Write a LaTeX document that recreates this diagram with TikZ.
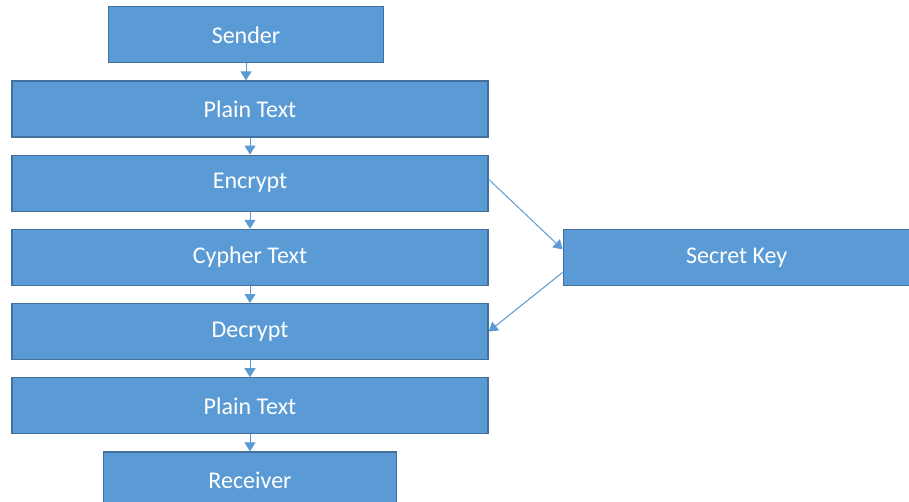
\documentclass[tikz,border=0pt]{standalone}
\usepackage{fontspec}
\setmainfont{Carlito}
\usetikzlibrary{positioning,arrows.meta}
\definecolor{boxblue}{HTML}{5B9BD5}
\definecolor{edgeblue}{HTML}{41719C}

\begin{document}
\begin{tikzpicture}[
    node distance=8.5pt,
    every node/.style={font=\fontsize{12}{14}\selectfont, text=white, align=center},
    box/.style={rectangle, draw=edgeblue, fill=boxblue, line width=0.6pt, minimum width=238pt, minimum height=28pt},
    arrow/.style={-{Triangle[length=4.5pt,width=5.5pt]}, draw=boxblue, line width=0.5pt}
  ]
  \useasboundingbox (0,0) rectangle (454.5pt,-251pt);
  % Nodes
  \node[box] (plain1) at (125pt,-54.5pt) {Plain Text};
  \node[box, minimum width=137.5pt, above=of plain1, xshift=-2pt] (sender) {Sender};
  \node[box, below=of plain1] (encrypt) {Encrypt};
  \node[box, below=of encrypt] (cypher) {Cypher Text};
  \node[box, below=of cypher] (decrypt) {Decrypt};
  \node[box, below=of decrypt] (plain2) {Plain Text};
  \node[box, minimum width=146.5pt, below=of plain2] (receiver) {Receiver};
  \node[box, minimum width=173.5pt, right=37pt of cypher] (key) {Secret Key};
  % Arrows
  \draw[arrow] (sender) -- (sender |- plain1.north);
  \draw[arrow] (plain1) -- (encrypt);
  \draw[arrow] (encrypt) -- (cypher);
  \draw[arrow] (cypher) -- (decrypt);
  \draw[arrow] (decrypt) -- (plain2);
  \draw[arrow] (plain2) -- (receiver);
  \draw[arrow] ([yshift=2pt]encrypt.east) -- ([yshift=4pt]key.west);
  \draw[arrow] ([yshift=-7.5pt]key.west) -- (decrypt.east);
\end{tikzpicture}
\end{document}
